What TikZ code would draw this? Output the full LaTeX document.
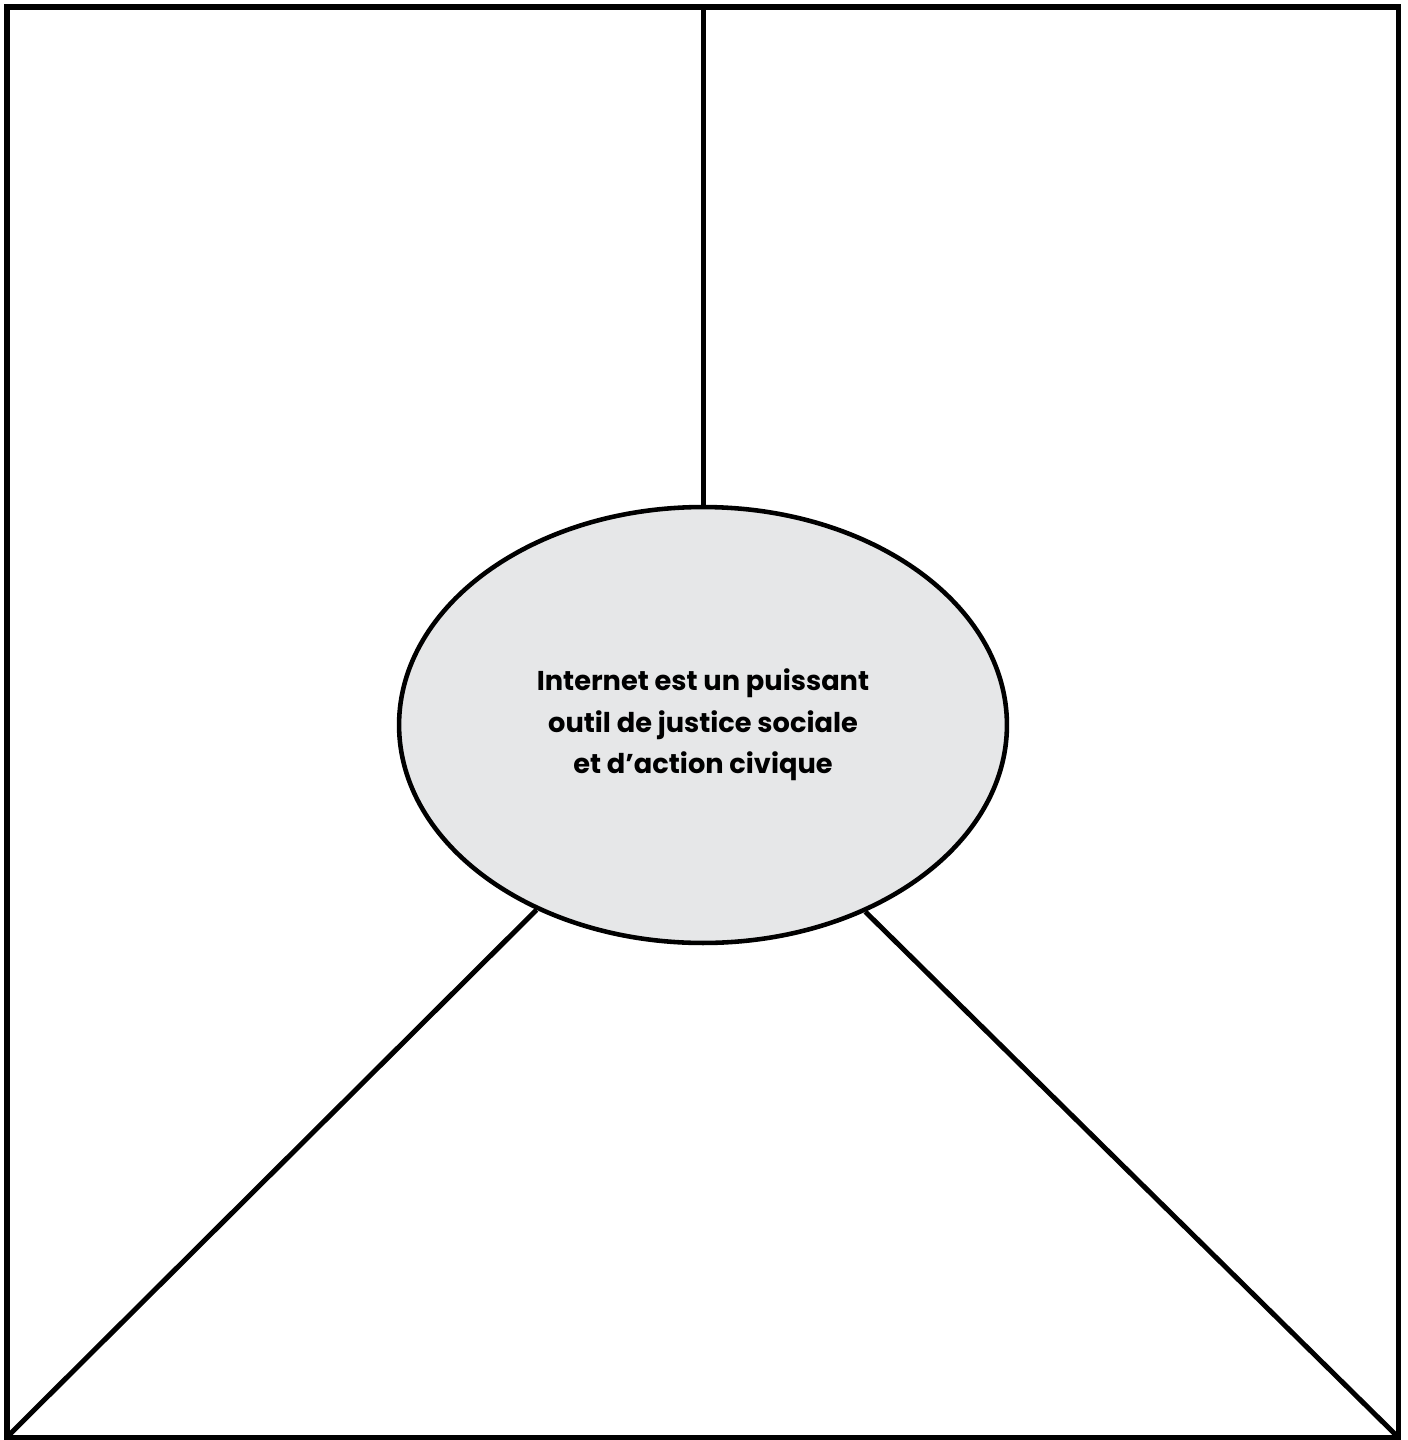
\documentclass[tikz,border=0pt]{standalone}
\usepackage{fontspec}
\setmainfont{Poppins}
\usetikzlibrary{shapes.geometric}
\definecolor{wbink}{HTML}{000000}
\definecolor{wbhubfill}{HTML}{E6E7E8}
\tikzset{
  wbframe/.style={draw=wbink, line width=2.85pt},
  wbspoke/.style={draw=wbink, line width=2.85pt},
  wbhub/.style={
    ellipse, draw=wbink, fill=wbhubfill, line width=2.6pt,
    minimum width=12.16cm, minimum height=8.72cm, inner sep=0pt,
    align=center, text=wbink,
    font=\bfseries\fontsize{15.5pt}{23.6pt}\selectfont},
}

\begin{document}
\begin{tikzpicture}[x=0.02cm, y=-0.02cm]

% Page frame, pixel coordinates of the sheet.
\useasboundingbox (0,0) rectangle (1408,1440);
\draw[wbframe] (7,7) rectangle (1398,1437);

% Corners and the top point the spokes run to.
\coordinate (top) at (703,7);
\coordinate (bl) at (7,1437);
\coordinate (br) at (1398,1437);

% Central statement.
\node[wbhub] (hub) at (703,725)
  {Internet est un puissant\\outil de justice sociale\\et d’action civique};

% Spokes from the statement out to the frame.
\draw[wbspoke] (hub.north) -- (top);
\draw[wbspoke] (hub.228.6) -- (bl);
\draw[wbspoke] (hub.311.4) -- (br);

\end{tikzpicture}
\end{document}
